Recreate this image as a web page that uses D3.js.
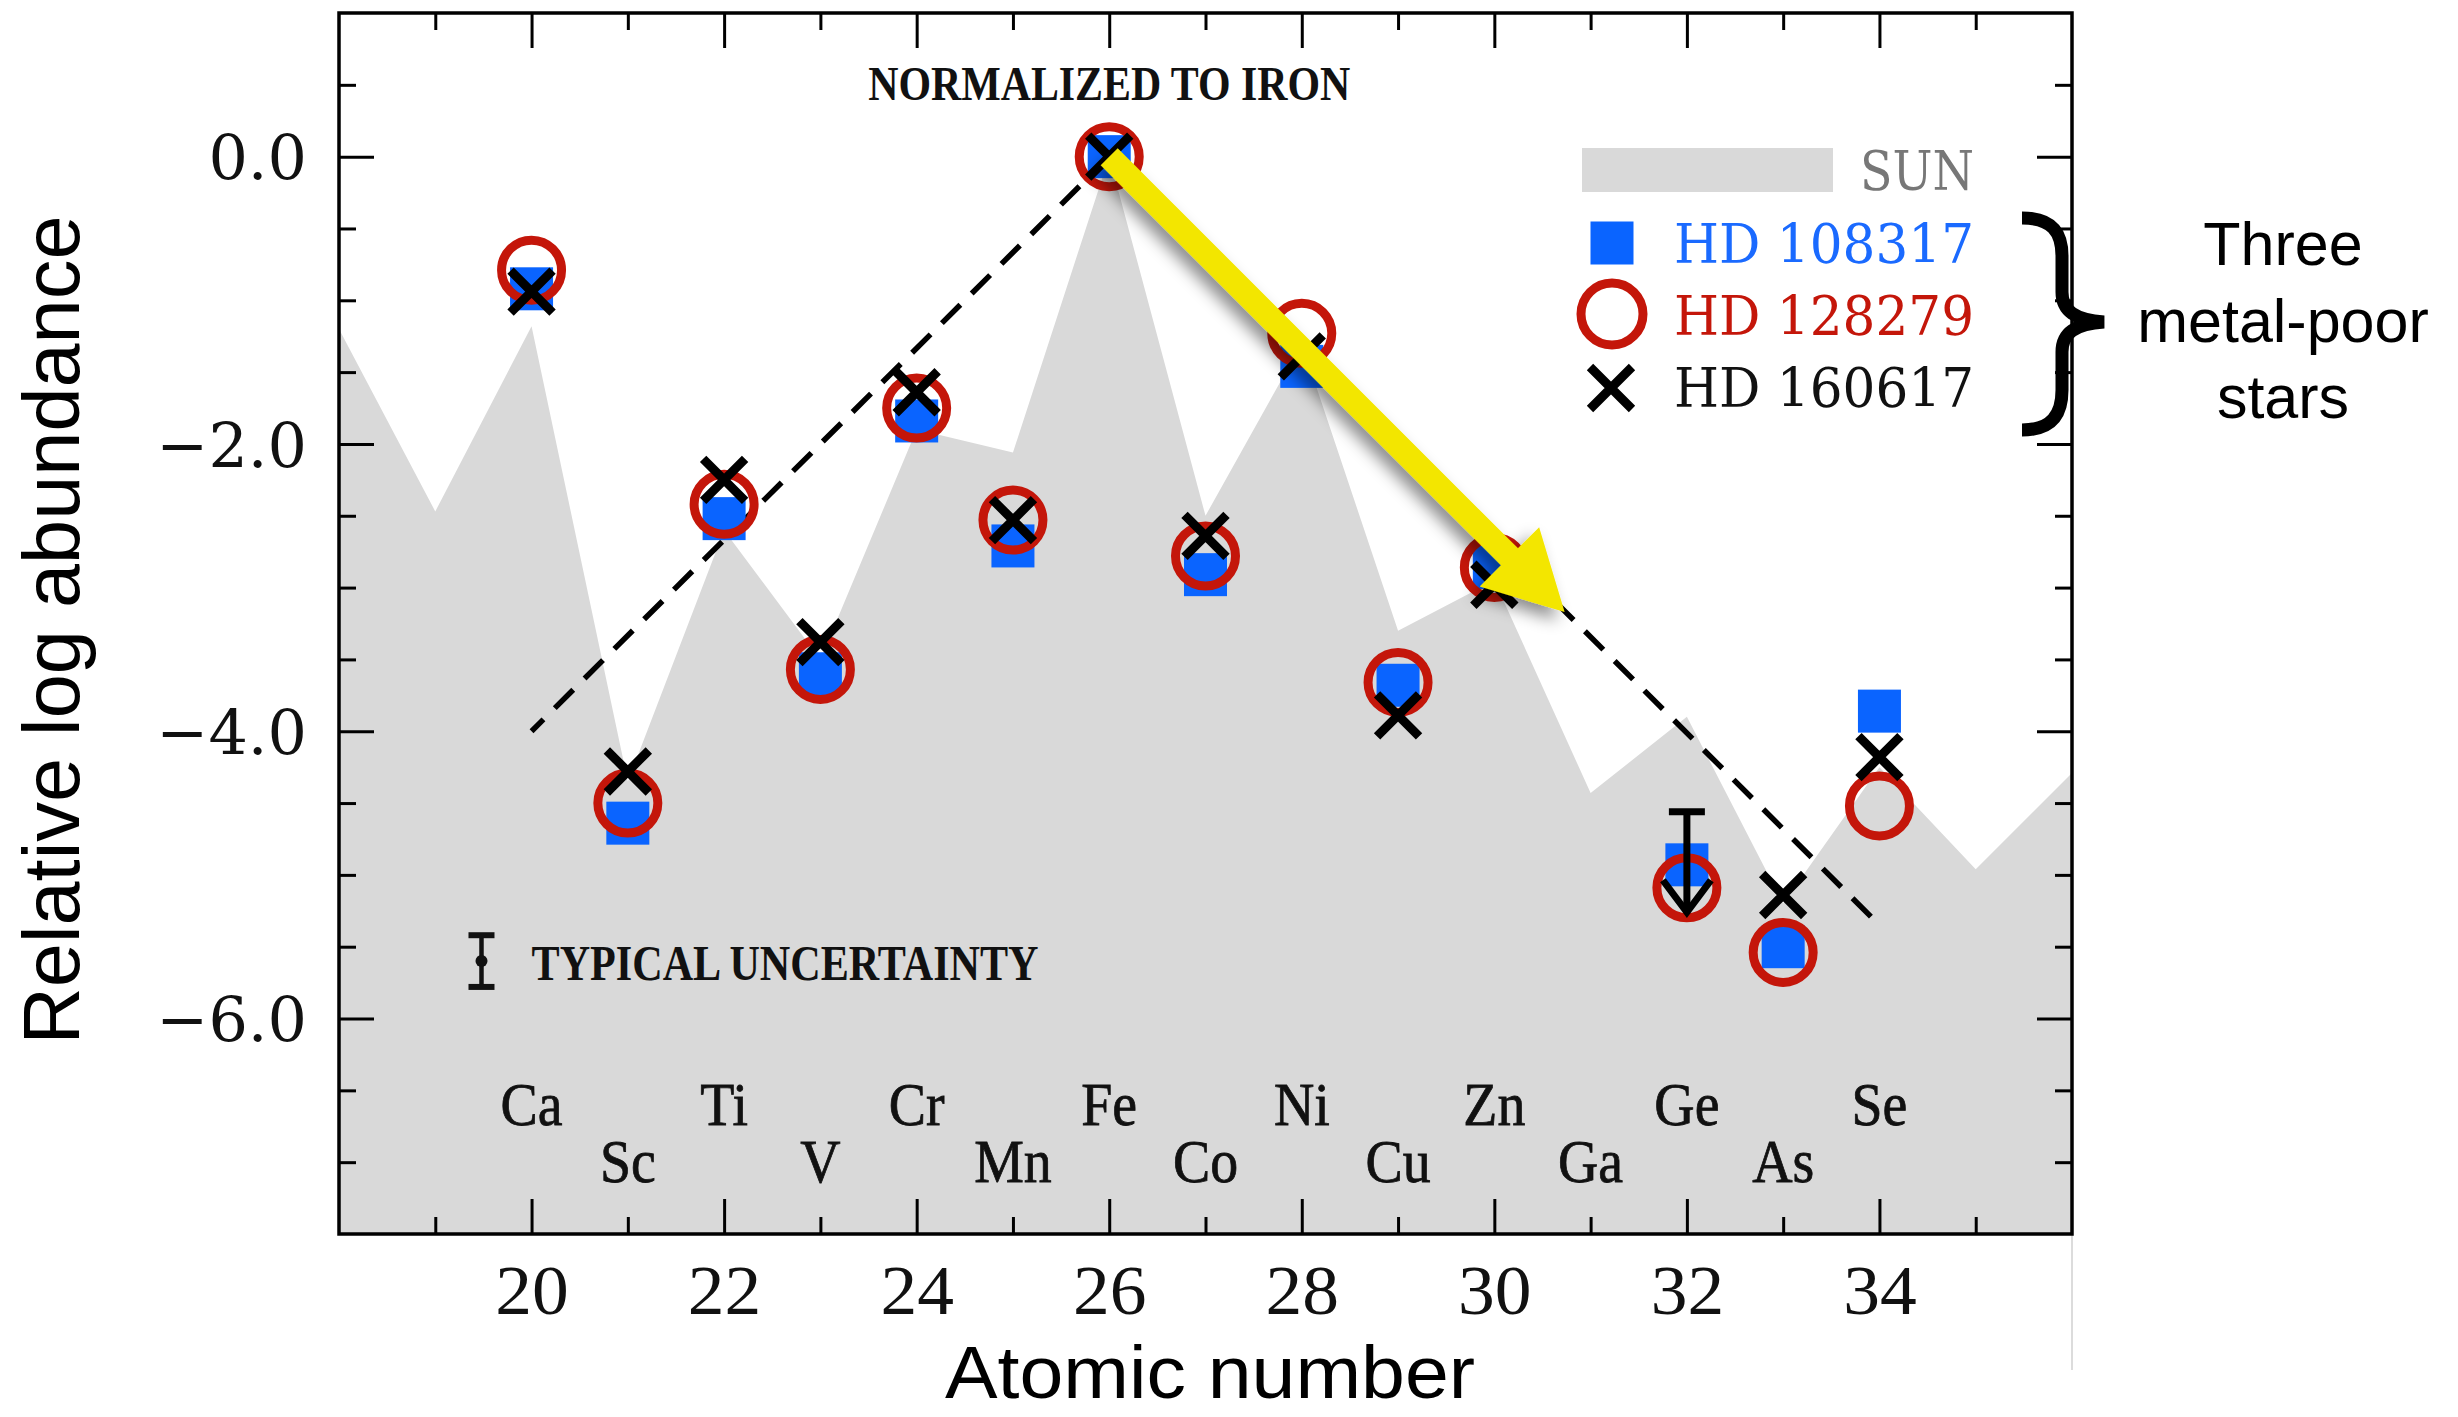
<!DOCTYPE html>
<html><head><meta charset="utf-8">
<script src="https://cdn.jsdelivr.net/npm/d3@7"></script>
<style>html,body{margin:0;padding:0;background:#fff;} svg{display:block}</style>
</head><body>
<svg id="chart" width="2458" height="1417"></svg>
<script>
// ---------------- DATA ----------------
const elements      = ["Ca","Sc","Ti","V","Cr","Mn","Fe","Co","Ni","Cu","Zn","Ga","Ge","As","Se"];
const atomicNumbers = [20,21,22,23,24,25,26,27,28,29,30,31,32,33,34];
const sunZ          = [18,19,20,21,22,23,24,25,26,27,28,29,30,31,32,33,34,35,36];
const sunAbundance  = [-1.2,-2.47,-1.18,-4.35,-2.6,-3.5,-1.9,-2.06,0.0,-2.5,-1.3,-3.3,-2.95,-4.43,-3.9,-5.2,-4.25,-4.96,-4.29];
const hd108317      = [-0.92,-4.64,-2.52,-3.60,-1.84,-2.71,0.0,-2.91,-1.46,-3.68,-2.86,null,-4.93,-5.50,-3.86];
const hd128279      = [-0.79,-4.50,-2.42,-3.57,-1.75,-2.53,0.0,-2.78,-1.23,-3.66,-2.86,null,-5.09,-5.54,-4.52];
const hd160617      = [-0.94,-4.28,-2.25,-3.38,-1.64,-2.53,0.0,-2.64,-1.39,-3.89,-2.98,null,null,-5.14,-4.18];
const upperLimitZ   = [32];
const upperLimitVal = [-4.56];
const xTickValues   = [20,22,24,26,28,30,32,34];
const xMinorTicks   = [19,21,23,25,27,29,31,33,35];
const yTickValues   = [0,-2,-4,-6];
const yTickLabels   = ["0.0","\u22122.0","\u22124.0","\u22126.0"];
const yMinorTicks   = [0.5,-0.5,-1,-1.5,-2.5,-3,-3.5,-4.5,-5,-5.5,-6.5,-7];
const trendLeftZ    = [26,20];
const trendLeftV    = [0,-4.0];
const trendRightZ   = [26,34];
const trendRightV   = [0,-5.35];
const arrowZ        = [26,30.73];
const arrowV        = [0,-3.17];
const uncertZ       = 19.48, uncertV = -5.6, uncertErr = 0.18;
const legendNames   = ["SUN","HD 108317","HD 128279","HD 160617"];

// ---------------- SETUP ----------------
const W=2458,H=1417, L=339,R=2072,T=13,B=1234;
const svg = d3.select("#chart");
const x = d3.scaleLinear().domain([18,36]).range([L,R]);
const y = d3.scaleLinear().domain([1,-7.5]).range([T,B]);
const BLUE="#0a64ff", RED="#c4160a", GRAY="#d9d9d9";

svg.append("rect").attr("width",W).attr("height",H).attr("fill","#fff");
const defs = svg.append("defs");
defs.append("clipPath").attr("id","clip").append("rect").attr("x",L).attr("y",T).attr("width",R-L).attr("height",B-T);
const f = defs.append("filter").attr("id","shadow").attr("x","-20%").attr("y","-20%").attr("width","140%").attr("height","140%");
f.append("feDropShadow").attr("dx",-7).attr("dy",8).attr("stdDeviation",8).attr("flood-color","#000").attr("flood-opacity",0.45);

function condense(sel, factor){
  sel.each(function(){ const len=this.getComputedTextLength(); d3.select(this).attr("textLength",len*factor).attr("lengthAdjust","spacingAndGlyphs"); });
}

// faint crop line below plot
svg.append("line").attr("x1",R).attr("x2",R).attr("y1",B).attr("y2",1370).attr("stroke","#d0d0d0").attr("stroke-width",1.5);

// sun area
const area = d3.area().x((d,i)=>x(sunZ[i])).y0(y(-7.5)).y1(d=>y(d));
svg.append("path").datum(sunAbundance).attr("d",area).attr("fill",GRAY).attr("clip-path","url(#clip)");

// ticks
function ticks(gen, vals, size, tr){
  const g = svg.append("g").attr("transform",tr)
    .call(gen.tickValues(vals).tickSize(size).tickSizeOuter(0).tickFormat(""));
  g.select(".domain").remove();
  g.selectAll("line").attr("stroke","#000").attr("stroke-width",3);
}
ticks(d3.axisBottom(x), xTickValues, -35, `translate(0,${B})`);
ticks(d3.axisBottom(x), xMinorTicks, -17, `translate(0,${B})`);
ticks(d3.axisTop(x), xTickValues, -35, `translate(0,${T})`);
ticks(d3.axisTop(x), xMinorTicks, -17, `translate(0,${T})`);
ticks(d3.axisLeft(y), yTickValues, -35, `translate(${L},0)`);
ticks(d3.axisLeft(y), yMinorTicks, -17, `translate(${L},0)`);
ticks(d3.axisRight(y), yTickValues, -35, `translate(${R},0)`);
ticks(d3.axisRight(y), yMinorTicks, -17, `translate(${R},0)`);

// frame
svg.append("rect").attr("x",L).attr("y",T).attr("width",R-L).attr("height",B-T)
  .attr("fill","none").attr("stroke","#000").attr("stroke-width",3.5);

// x tick labels
const gx = svg.append("g").attr("transform",`translate(0,${B})`)
  .call(d3.axisBottom(x).tickValues(xTickValues).tickSize(0).tickFormat(d3.format("d")));
gx.select(".domain").remove();
gx.selectAll("text").attr("dy",null).attr("y",80).attr("fill","#111")
  .style("font-family","'Liberation Serif',serif").style("font-size","70px");
condense(gx.selectAll("text"),1.05);

// y tick labels
const gy = svg.append("g").attr("transform",`translate(${L},0)`)
  .call(d3.axisLeft(y).tickValues(yTickValues).tickSize(0).tickPadding(32).tickFormat((d,i)=>yTickLabels[i]));
gy.select(".domain").remove();
gy.selectAll("text").attr("dy","0.36em").attr("fill","#111")
  .style("font-family","'DejaVu Serif',serif").style("font-size","62px");

// element labels
const rowVals = [-6.74,-7.14];
const el = svg.append("g").selectAll("text").data(elements).join("text")
  .attr("x",(d,i)=>x(atomicNumbers[i])).attr("y",(d,i)=>y(rowVals[atomicNumbers[i]%2]))
  .attr("text-anchor","middle").attr("fill","#111").attr("stroke","#111").attr("stroke-width",0.8)
  .style("font-family","'Liberation Serif',serif").style("font-size","62px").text(d=>d);
condense(el,0.9);

// trend dashed lines
const line = d3.line();
[[trendLeftZ,trendLeftV],[trendRightZ,trendRightV]].forEach(([zs,vs])=>{
  svg.append("path").attr("d",line(zs.map((z,i)=>[x(z),y(vs[i])])))
    .attr("fill","none").attr("stroke","#000").attr("stroke-width",5.5).attr("stroke-dasharray","26,16");
});

// typical uncertainty
const ug = svg.append("g").attr("stroke","#111");
ug.append("line").attr("x1",x(uncertZ)).attr("x2",x(uncertZ)).attr("y1",y(uncertV+uncertErr)).attr("y2",y(uncertV-uncertErr)).attr("stroke-width",4.5);
[uncertV+uncertErr,uncertV-uncertErr].forEach(v=>ug.append("line").attr("x1",x(uncertZ)-13).attr("x2",x(uncertZ)+13).attr("y1",y(v)).attr("y2",y(v)).attr("stroke-width",6));
ug.append("circle").attr("cx",x(uncertZ)).attr("cy",y(uncertV)).attr("r",6).attr("fill","#111").attr("stroke","none");
svg.append("text").attr("x",x(20)).attr("y",y(uncertV)+19).attr("fill","#111")
  .attr("textLength",507).attr("lengthAdjust","spacingAndGlyphs")
  .style("font-family","'Liberation Serif',serif").style("font-weight","bold").style("font-size","50px")
  .text("TYPICAL UNCERTAINTY");

// NORMALIZED TO IRON
svg.append("text").attr("x",x(26)).attr("y",100).attr("text-anchor","middle").attr("fill","#111")
  .attr("textLength",482).attr("lengthAdjust","spacingAndGlyphs")
  .style("font-family","'Liberation Serif',serif").style("font-weight","bold").style("font-size","48px")
  .text("NORMALIZED TO IRON");

// markers
const SQ=43, CR=30, XS=21;
const pts = s => atomicNumbers.map((z,i)=>({z,v:s[i]})).filter(d=>d.v!==null);
svg.append("g").selectAll("rect").data(pts(hd108317)).join("rect")
  .attr("x",d=>x(d.z)-SQ/2).attr("y",d=>y(d.v)-SQ/2).attr("width",SQ).attr("height",SQ).attr("fill",BLUE);
svg.append("g").selectAll("circle").data(pts(hd128279)).join("circle")
  .attr("cx",d=>x(d.z)).attr("cy",d=>y(d.v)).attr("r",CR).attr("fill","none").attr("stroke",RED).attr("stroke-width",9);
const xs = svg.append("g").attr("stroke","#000").attr("stroke-width",9);
pts(hd160617).forEach(d=>{
  const cx=x(d.z), cy=y(d.v);
  xs.append("path").attr("d",`M${cx-XS},${cy-XS}L${cx+XS},${cy+XS}M${cx-XS},${cy+XS}L${cx+XS},${cy-XS}`);
});

// upper limit arrow (HD 160617, Ge)
upperLimitZ.forEach((z,i)=>{
  const cx=x(z), top=y(upperLimitVal[i]), tip=y(upperLimitVal[i]-0.7);
  const g = svg.append("g").attr("stroke","#000").attr("stroke-width",7).attr("fill","none");
  g.append("line").attr("x1",cx).attr("x2",cx).attr("y1",top).attr("y2",tip);
  g.append("line").attr("x1",cx-18).attr("x2",cx+18).attr("y1",top).attr("y2",top);
  g.append("path").attr("d",`M${cx-24},${tip-32}L${cx},${tip}L${cx+24},${tip-32}`);
});

// yellow arrow
(function(){
  const sx=x(arrowZ[0]), sy=y(arrowV[0]), ex=x(arrowZ[1]), ey=y(arrowV[1]);
  const len=Math.hypot(ex-sx,ey-sy), ux=(ex-sx)/len, uy=(ey-sy)/len, nx=-uy, ny=ux;
  const hw=12, hl=78, hh=42, bx=ex-ux*hl, by=ey-uy*hl;
  const p=[[sx+nx*hw,sy+ny*hw],[bx+nx*hw,by+ny*hw],[bx+nx*hh,by+ny*hh],[ex,ey],[bx-nx*hh,by-ny*hh],[bx-nx*hw,by-ny*hw],[sx-nx*hw,sy-ny*hw]];
  svg.append("path").attr("d","M"+p.map(q=>q.join(",")).join("L")+"Z").attr("fill","#f3e600").attr("filter","url(#shadow)");
})();

// legend
const lg = svg.append("g");
lg.append("rect").attr("x",1582).attr("y",148).attr("width",251).attr("height",44).attr("fill",GRAY);
lg.append("rect").attr("x",1612-SQ/2).attr("y",243-SQ/2).attr("width",SQ).attr("height",SQ).attr("fill",BLUE);
lg.append("circle").attr("cx",1612).attr("cy",314).attr("r",31).attr("fill","none").attr("stroke",RED).attr("stroke-width",9);
lg.append("path").attr("d",`M${1611-XS},${388-XS}L${1611+XS},${388+XS}M${1611-XS},${388+XS}L${1611+XS},${388-XS}`).attr("stroke","#000").attr("stroke-width",9);
const legendText = [{x:1860,y:190,w:114,c:"#777"},{x:1674,y:263,w:300,c:"#1a6aff"},{x:1674,y:335,w:300,c:RED},{x:1674,y:407,w:300,c:"#111"}];
legendNames.forEach((n,i)=>{
  lg.append("text").attr("x",legendText[i].x).attr("y",legendText[i].y).attr("fill",legendText[i].c)
    .attr("textLength",legendText[i].w).attr("lengthAdjust","spacingAndGlyphs")
    .style("font-family","'DejaVu Serif',serif").style("font-size","54px").text(n);
});

// brace + annotation
svg.append("path").attr("d","M2022,218C2052,218 2062,232 2062,256L2062,292C2062,311 2075,320 2104,322C2075,324 2062,333 2062,352L2062,390C2062,414 2052,430 2022,430")
  .attr("fill","none").attr("stroke","#000").attr("stroke-width",13);
[["Three",265],["metal-poor",342],["stars",418]].forEach(([t,yy])=>{
  svg.append("text").attr("x",2283).attr("y",yy).attr("text-anchor","middle").attr("fill","#000")
    .style("font-family","'Liberation Sans',Arial,sans-serif").style("font-size","61px").text(t);
});

// axis titles
svg.append("text").attr("x",1210).attr("y",1398).attr("text-anchor","middle").attr("fill","#000")
  .attr("textLength",530).attr("lengthAdjust","spacingAndGlyphs")
  .style("font-family","'Liberation Sans',Arial,sans-serif").style("font-size","74px").text("Atomic number");
svg.append("text").attr("transform","translate(79,630) rotate(-90)").attr("text-anchor","middle").attr("fill","#000")
  .attr("textLength",829).attr("lengthAdjust","spacingAndGlyphs")
  .style("font-family","'Liberation Sans',Arial,sans-serif").style("font-size","80px").text("Relative log abundance");
</script>
</body></html>
